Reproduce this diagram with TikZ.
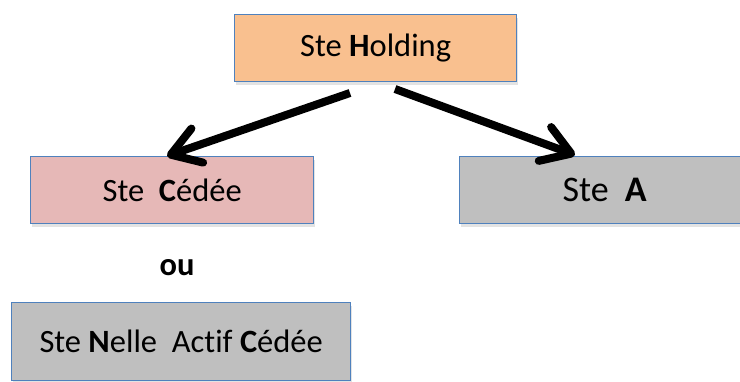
\documentclass[tikz,border=0pt]{standalone}
\usepackage{fontspec}
\setmainfont{Carlito}[Ligatures=CommonOff]
\usetikzlibrary{arrows.meta,shadows}
\definecolor{boxline}{HTML}{4F81BD}
\definecolor{holdfill}{HTML}{F9C08F}
\definecolor{cedefill}{HTML}{E6B8B7}
\definecolor{grayfill}{HTML}{BFBFBF}
\tikzset{
  entity/.style={draw=boxline, line width=1.3pt, rectangle, anchor=north west,
    inner sep=0pt, font=\fontsize{32.5}{36}\selectfont,
    drop shadow={opacity=0.22, shadow xshift=1.5pt, shadow yshift=-3pt}},
  link/.style={line width=8pt, black,
    -{Straight Barb[length=28pt, width=36pt, line width=8pt, line cap=round, line join=round]}}
}
\begin{document}
\begin{tikzpicture}[x=1pt, y=-1pt]
  \useasboundingbox (0,0) rectangle (740,382);
  % company boxes
  \node[entity, fill=holdfill, minimum width=282pt, minimum height=67pt] (hold) at (234,14) {Ste \textbf{H}olding};
  \node[entity, fill=cedefill, minimum width=283pt, minimum height=67pt] (cede) at (30,156) {Ste\ \ \textbf{C}édée};
  \node[entity, fill=grayfill, minimum width=290pt, minimum height=67pt, font=\fontsize{36}{40}\selectfont] (sta) at (459,156) {Ste\ \ \textbf{A}};
  \node[entity, fill=grayfill, minimum width=339pt, minimum height=78pt] (nelle) at (11,302) {Ste \textbf{N}elle\ \ Actif \textbf{C}édée};
  % alternative label
  \node[font=\fontsize{32.5}{36}\selectfont\bfseries] (ou) at (177,268) {ou};
  % ownership arrows
  \coordinate (s1) at (350,93);
  \coordinate (s2) at (395,89);
  \coordinate (t1) at (167,156);
  \coordinate (t2) at (575,155);
  \draw[link] (s1) -- (t1);
  \draw[link] (s2) -- (t2);
\end{tikzpicture}
\end{document}
